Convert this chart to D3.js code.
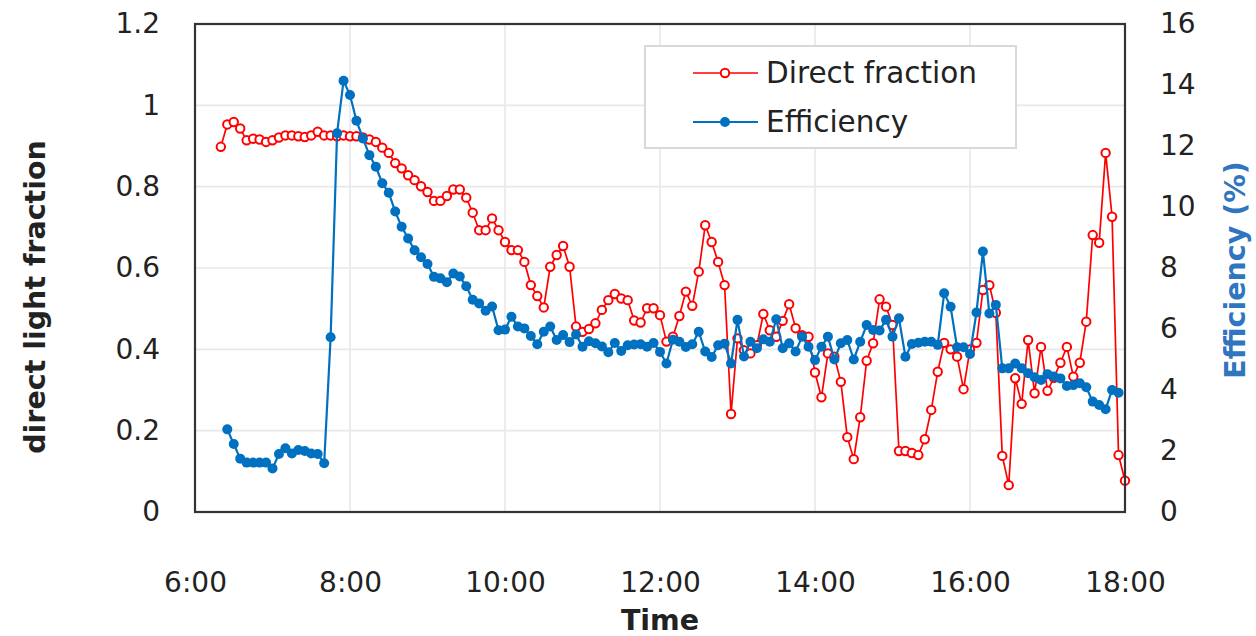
<!DOCTYPE html>
<html>
<head>
<meta charset="utf-8">
<script src="https://cdn.jsdelivr.net/npm/d3@7"></script>
<style>
  html, body { margin: 0; padding: 0; background: #fff; }
  svg { display: block; }
</style>
</head>
<body>
<svg id="chart" width="1256" height="636"></svg>
<script>
// ---------- data ----------
// sampling: every 5 minutes from 6:20 to 18:00 (141 samples)
const startMinute = 6 * 60 + 20;
const stepMinutes = 5;

const directFraction = [
  0.898, 0.953, 0.959, 0.943, 0.914, 0.918, 0.916, 0.910, 0.914, 0.921,
  0.926, 0.926, 0.924, 0.922, 0.926, 0.935, 0.926, 0.926, 0.924, 0.926,
  0.924, 0.924, 0.921, 0.916, 0.910, 0.896, 0.883, 0.858, 0.845, 0.828,
  0.816, 0.801, 0.787, 0.765, 0.765, 0.777, 0.793, 0.793, 0.773, 0.736,
  0.693, 0.693, 0.722, 0.693, 0.664, 0.644, 0.644, 0.615, 0.558, 0.531,
  0.503, 0.603, 0.632, 0.654, 0.603, 0.456, 0.443, 0.450, 0.464, 0.497,
  0.521, 0.536, 0.525, 0.521, 0.471, 0.466, 0.501, 0.501, 0.484, 0.419,
  0.431, 0.482, 0.542, 0.507, 0.591, 0.705, 0.664, 0.615, 0.558, 0.241,
  0.427, 0.398, 0.390, 0.410, 0.487, 0.447, 0.431, 0.470, 0.511, 0.452,
  0.435, 0.431, 0.343, 0.282, 0.390, 0.382, 0.320, 0.184, 0.130, 0.233,
  0.372, 0.415, 0.523, 0.505, 0.460, 0.150, 0.150, 0.145, 0.140, 0.179,
  0.251, 0.345, 0.416, 0.400, 0.382, 0.302, 0.400, 0.416, 0.546, 0.558,
  0.490, 0.138, 0.066, 0.329, 0.266, 0.423, 0.292, 0.406, 0.298, 0.330,
  0.367, 0.406, 0.333, 0.367, 0.468, 0.681, 0.662, 0.883, 0.726, 0.140,
  0.077
];

const efficiency = [
  null, 2.71, 2.23, 1.75, 1.62, 1.62, 1.62, 1.62, 1.43, 1.90,
  2.09, 1.92, 2.03, 2.00, 1.92, 1.90, 1.60, 5.73, 12.42, 14.14,
  13.67, 12.83, 12.25, 11.70, 11.32, 10.78, 10.47, 9.85, 9.35, 8.97,
  8.58, 8.35, 8.13, 7.71, 7.66, 7.53, 7.82, 7.72, 7.40, 6.96,
  6.84, 6.60, 6.74, 5.96, 5.98, 6.40, 6.08, 6.02, 5.77, 5.50,
  5.91, 6.08, 5.64, 5.80, 5.57, 5.82, 5.42, 5.60, 5.53, 5.43,
  5.24, 5.54, 5.28, 5.47, 5.49, 5.50, 5.42, 5.54, 5.25, 4.87,
  5.65, 5.58, 5.41, 5.50, 5.91, 5.26, 5.08, 5.47, 5.52, 4.87,
  6.30, 5.10, 5.58, 5.37, 5.66, 5.58, 6.32, 5.37, 5.53, 5.26,
  5.75, 5.42, 4.98, 5.42, 5.75, 5.00, 5.53, 5.64, 5.00, 5.58,
  6.13, 5.97, 5.95, 6.30, 5.75, 6.35, 5.09, 5.51, 5.55, 5.58,
  5.58, 5.48, 7.17, 6.73, 5.40, 5.40, 5.18, 6.54, 8.54, 6.51,
  6.79, 4.71, 4.71, 4.87, 4.71, 4.55, 4.42, 4.33, 4.52, 4.44,
  4.38, 4.13, 4.16, 4.22, 4.09, 3.62, 3.51, 3.37, 4.00, 3.91,
  null
];

const timeTicks = [360, 480, 600, 720, 840, 960, 1080];          // minutes
const timeTickLabels = ["6:00", "8:00", "10:00", "12:00", "14:00", "16:00", "18:00"];
const leftTicks = [0, 0.2, 0.4, 0.6, 0.8, 1, 1.2];
const leftTickLabels = ["0", "0.2", "0.4", "0.6", "0.8", "1", "1.2"];
const rightTicks = [0, 2, 4, 6, 8, 10, 12, 14, 16];

// ---------- layout ----------
const plot = { left: 195, right: 1125, top: 24, bottom: 512 };
const FONT = "'DejaVu Sans', sans-serif";
const RED = "#ff0000";
const BLUE = "#0070c0";

const svg = d3.select("#chart");

const x = d3.scaleLinear().domain([360, 1080]).range([plot.left, plot.right]);
const yL = d3.scaleLinear().domain([0, 1.2]).range([plot.bottom, plot.top]);
const yR = d3.scaleLinear().domain([0, 16]).range([plot.bottom, plot.top]);

const times = directFraction.map((_, i) => startMinute + i * stepMinutes);
const redData = times.map((t, i) => ({ t, v: directFraction[i] })).filter(d => d.v != null);
const blueData = times.map((t, i) => ({ t, v: efficiency[i] })).filter(d => d.v != null);

// gridlines
const grid = svg.append("g");
grid.selectAll("line.h").data(leftTicks.slice(1, -1)).join("line")
  .attr("x1", plot.left).attr("x2", plot.right)
  .attr("y1", d => yL(d)).attr("y2", d => yL(d))
  .attr("stroke", "#e8e8e8").attr("stroke-width", 1.6);
grid.selectAll("line.v").data(timeTicks.slice(1, -1)).join("line")
  .attr("y1", plot.top).attr("y2", plot.bottom)
  .attr("x1", d => x(d)).attr("x2", d => x(d))
  .attr("stroke", "#e8e8e8").attr("stroke-width", 1.6);

// axes (labels only)
const axL = svg.append("g").attr("transform", `translate(${plot.left},0)`)
  .call(d3.axisLeft(yL).tickValues(leftTicks).tickSize(0).tickPadding(35)
    .tickFormat((d, i) => leftTickLabels[i]));
const axR = svg.append("g").attr("transform", `translate(${plot.right},0)`)
  .call(d3.axisRight(yR).tickValues(rightTicks).tickSize(0).tickPadding(35)
    .tickFormat(d3.format("d")));
const axB = svg.append("g").attr("transform", `translate(0,${plot.bottom})`)
  .call(d3.axisBottom(x).tickValues(timeTicks).tickSize(0).tickPadding(60)
    .tickFormat((d, i) => timeTickLabels[i]));
[axL, axR, axB].forEach(a => {
  a.select(".domain").remove();
  a.selectAll("text").attr("font-family", FONT).attr("font-size", 28).attr("fill", "#222");
});

// series: direct fraction (red, open circles)
const lineL = d3.line().x(d => x(d.t)).y(d => yL(d.v));
const lineR = d3.line().x(d => x(d.t)).y(d => yR(d.v));

svg.append("path").datum(redData).attr("d", lineL)
  .attr("fill", "none").attr("stroke", RED).attr("stroke-width", 1.7);
svg.append("g").selectAll("circle").data(redData).join("circle")
  .attr("cx", d => x(d.t)).attr("cy", d => yL(d.v)).attr("r", 4.2)
  .attr("fill", "#fff").attr("stroke", RED).attr("stroke-width", 2);

// series: efficiency (blue, filled circles)
svg.append("path").datum(blueData).attr("d", lineR)
  .attr("fill", "none").attr("stroke", BLUE).attr("stroke-width", 2.2);
svg.append("g").selectAll("circle").data(blueData).join("circle")
  .attr("cx", d => x(d.t)).attr("cy", d => yR(d.v)).attr("r", 5)
  .attr("fill", BLUE);

// frame
svg.append("rect")
  .attr("x", plot.left).attr("y", plot.top)
  .attr("width", plot.right - plot.left).attr("height", plot.bottom - plot.top)
  .attr("fill", "none").attr("stroke", "#333").attr("stroke-width", 2.2);

// legend
const lg = svg.append("g");
lg.append("rect").attr("x", 645).attr("y", 46).attr("width", 371).attr("height", 102)
  .attr("fill", "#fff").attr("stroke", "#d9d9d9").attr("stroke-width", 2);
const legendItems = [
  { name: "Direct fraction", color: RED, open: true, y: 73 },
  { name: "Efficiency", color: BLUE, open: false, y: 122 }
];
legendItems.forEach(it => {
  lg.append("line").attr("x1", 693).attr("x2", 758).attr("y1", it.y).attr("y2", it.y)
    .attr("stroke", it.color).attr("stroke-width", it.open ? 1.7 : 2.2);
  lg.append("circle").attr("cx", 725).attr("cy", it.y).attr("r", it.open ? 4.2 : 5)
    .attr("fill", it.open ? "#fff" : it.color)
    .attr("stroke", it.open ? it.color : "none").attr("stroke-width", 2);
  lg.append("text").attr("x", 766).attr("y", it.y).attr("dy", "0.35em")
    .attr("font-family", FONT).attr("font-size", 29.5).attr("fill", "#222")
    .text(it.name);
});

// axis titles
svg.append("text").attr("transform", "translate(35,297) rotate(-90)")
  .attr("text-anchor", "middle").attr("dy", "0.35em")
  .attr("font-family", FONT).attr("font-size", 28.5).attr("font-weight", "bold").attr("fill", "#222")
  .text("direct light fraction");
svg.append("text").attr("transform", "translate(1235,270) rotate(-90)")
  .attr("text-anchor", "middle").attr("dy", "0.35em")
  .attr("font-family", FONT).attr("font-size", 28.5).attr("font-weight", "bold").attr("fill", "#2f75c0")
  .text("Efficiency (%)");
svg.append("text").attr("x", 660).attr("y", 620).attr("dy", "0.35em")
  .attr("text-anchor", "middle")
  .attr("font-family", FONT).attr("font-size", 28.5).attr("font-weight", "bold").attr("fill", "#222")
  .text("Time");
</script>
</body>
</html>
